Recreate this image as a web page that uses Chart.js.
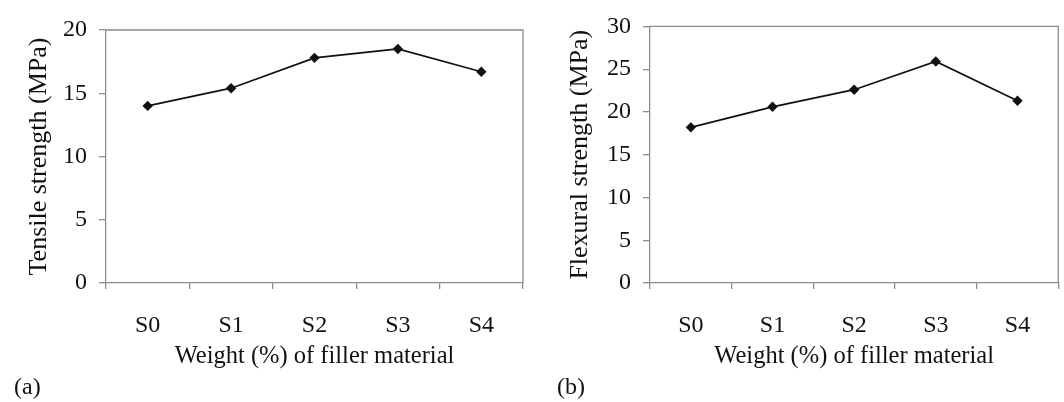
<!DOCTYPE html>
<html>
<head>
<meta charset="utf-8">
<script src="https://cdn.jsdelivr.net/npm/chart.js"></script>
<style>
  body { margin: 0; background: #fff; width: 1064px; height: 402px; overflow: hidden; position: relative; }
  canvas { position: absolute; top: 0; }
  .panel { position: absolute; top: 373px; font-family: "Liberation Serif", "Times New Roman", serif; font-size: 24px; color: #111; }
</style>
</head>
<body>
<canvas id="tensile_chart" width="532" height="402" style="left:0px"></canvas>
<canvas id="flexural_chart" width="532" height="402" style="left:532px"></canvas>
<div class="panel" style="left:14px">(a)</div>
<div class="panel" style="left:557px">(b)</div>
<script>

const samples = ["S0", "S1", "S2", "S3", "S4"];
const tensile_values = [14.0, 15.4, 17.8, 18.5, 16.7];
const flexural_values = [18.2, 20.6, 22.6, 25.9, 21.3];
const tensile_ticks = [0, 5, 10, 15, 20];
const flexural_ticks = [0, 5, 10, 15, 20, 25, 30];

const axis_grey = "#8c8c8c";
const serif = "'Liberation Serif', 'Times New Roman', serif";

// top + right frame of the plot area (the left/bottom are the axes)
const frame_plugin = {
    id: "frame",
    afterDraw(chart) {
        const a = chart.chartArea;
        const ctx = chart.ctx;
        ctx.save();
        ctx.strokeStyle = axis_grey;
        ctx.lineWidth = 1.3;
        ctx.beginPath();
        ctx.moveTo(a.left, a.top);
        ctx.lineTo(a.right, a.top);
        ctx.lineTo(a.right, a.bottom);
        ctx.stroke();
        ctx.restore();
    }
};

function make_chart(canvas_id, values, y_title, y_ticks, pad, y_width, y_title_pad) {
    new Chart(document.getElementById(canvas_id), {
        type: 'line',
        data: {
            labels: samples,
            datasets: [{
                label: y_title,
                data: values,
                borderColor: "#111",
                backgroundColor: "#111",
                borderWidth: 1.7,
                pointStyle: 'rectRot',
                pointRadius: 4,
                tension: 0
            }]
        },
        options: {
            responsive: false,
            animation: false,
            layout: { padding: pad },
            plugins: { legend: { display: false }, tooltip: { enabled: false } },
            scales: {
                x: {
                    offset: true,
                    grid: { offset: true, drawOnChartArea: false, color: axis_grey, tickLength: 6, lineWidth: 1.3 },
                    border: { color: axis_grey, width: 1.3 },
                    ticks: { color: "#111", padding: 22, font: { family: serif, size: 24 } },
                    title: { display: true, text: "Weight (%) of filler material", color: "#111",
                             padding: { top: 0, bottom: 31 }, font: { family: serif, size: 24.5 } },
                    afterFit: function (scale) { scale.height = 402 - 283; }
                },
                y: {
                    min: y_ticks[0],
                    max: y_ticks[y_ticks.length - 1],
                    afterBuildTicks: function (scale) { scale.ticks = y_ticks.map(v => ({ value: v })); },
                    grid: { drawOnChartArea: false, color: axis_grey, tickLength: 7, lineWidth: 1.3 },
                    border: { color: axis_grey, width: 1.3 },
                    ticks: { color: "#111", padding: 12, font: { family: serif, size: 24 } },
                    title: { display: true, text: y_title, color: "#111",
                             padding: { top: y_title_pad, bottom: 0 }, font: { family: serif, size: 26 } },
                    afterFit: function (scale) { scale.width = y_width; }
                }
            }
        },
        plugins: [frame_plugin]
    });
}

make_chart("tensile_chart", tensile_values, "Tensile strength (MPa)", tensile_ticks,
    { top: 30, right: 9, left: 0, bottom: 0 }, 106, 24);
make_chart("flexural_chart", flexural_values, "Flexural strength (MPa)", flexural_ticks,
    { top: 26, right: 2, left: 0, bottom: 0 }, 118, 33);

</script>
</body>
</html>
